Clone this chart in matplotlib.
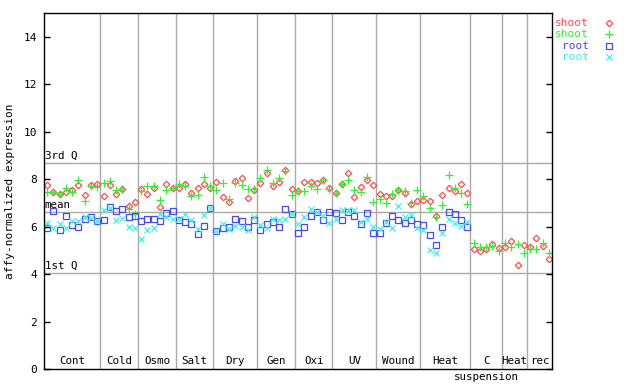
import numpy as np
import matplotlib
matplotlib.use('Agg')
import matplotlib.pyplot as plt

plt.rcParams['font.family'] = ['DejaVu Sans Mono']

# sample groups along the x axis
groups = ['Cont', 'Cold', 'Osmo', 'Salt', 'Dry', 'Gen', 'Oxi', 'UV', 'Wound', 'Heat', 'C', 'Heat', 'rec']
group_sizes = [9, 6, 6, 6, 7, 6, 6, 7, 7, 8, 5, 4, 4]

nan = np.nan
shoot_1 = [7.76, 7.45, 7.36, 7.47, 7.53, 7.76, 7.33, 7.76, 7.79, 7.28, 7.76, 7.36, 7.59, 6.88, 7.05, 7.59,
           7.36, 7.62, 6.82, 7.81, 7.62, 7.62, 7.81, 7.42, 7.62, 7.81, 7.62, 7.90, 7.25, 7.02, 7.93, 8.04, 7.22,
           7.56, 7.84, 8.27, 7.70, 7.87, 8.38, 7.59, 7.50, 7.87, 7.87, 7.84, 7.95, 7.64, 7.42, 7.79, 8.27,
           7.25, 7.67, 7.95, 7.76, 7.39, 7.28, 7.28, 7.53, 7.42, 6.96, 7.08, 7.11, 7.08, 6.46, 7.33, 7.62,
           7.50, 7.79, 7.42, 5.04, 4.96, 5.07, 5.27, 5.10, 5.16, 5.38, 4.39, 5.24, 5.16, 5.52, 5.19, 4.62]
shoot_2 = [7.45, 7.45, 7.36, 7.62, 7.47, 7.95, 7.08, 7.73, 7.67, 7.84, 7.93, 7.56, 7.59, 6.74, 6.54, 7.50,
           7.70, 7.70, 7.11, 7.56, 7.62, 7.81, 7.70, 7.28, 7.33, 8.10, 7.73, 7.53, 7.84, 7.16, 7.84, 7.76, 7.59,
           7.59, 8.04, 8.38, 7.84, 8.04, 8.35, 7.33, 7.50, 7.50, 7.73, 7.59, 7.95, 7.59, 7.42, 7.79, 7.95,
           7.53, 7.45, 8.07, 7.05, 7.16, 6.99, 7.39, 7.56, 7.50, 6.99, 7.53, 7.28, 6.77, 6.40, 6.91, 8.18,
           7.62, 7.42, 6.94, 5.33, 5.16, 5.16, 5.19, 4.96, 5.30, 5.16, 5.27, 4.87, 5.04, 5.04, 5.33, 4.87]
root_1 = [5.92, 6.65, 5.84, 6.43, 6.06, 6.00, 6.32, 6.40, 6.23, 6.26, 6.82, 6.65, 6.74, 6.40, 6.43, 6.23,
          6.32, 6.32, 6.23, 6.57, 6.65, 6.26, 6.20, 6.09, 5.67, 6.03, 6.77, 5.81, 5.95, 6.00, 6.32, 6.23, 6.00,
          6.26, 5.84, 6.09, 6.20, 6.00, 6.74, 6.54, 5.75, 6.00, 6.43, 6.60, 6.26, 6.60, 6.57, 6.26, 6.60,
          6.46, 6.09, 6.57, 5.75, 5.75, 6.15, 6.43, 6.26, 6.17, 6.26, 6.12, 6.06, 5.64, 5.21, 5.98, 6.63,
          6.51, 6.29, 6.00] + [nan] * 13
root_2 = [6.17, 5.95, 6.12, 5.95, 6.23, 6.23, 6.40, 6.37, 6.23, 6.71, 6.77, 6.26, 6.37, 6.00, 5.92, 5.47,
          5.84, 5.92, 6.54, 6.40, 6.32, 6.34, 6.51, 6.29, 5.89, 6.48, 6.77, 5.81, 6.09, 5.89, 6.03, 5.98, 5.86,
          6.40, 6.06, 5.95, 6.32, 6.26, 6.34, 6.54, 6.09, 6.40, 6.74, 6.63, 6.43, 6.17, 6.34, 6.68, 6.71,
          6.71, 6.20, 6.34, 5.98, 5.89, 6.20, 5.95, 6.85, 6.40, 6.48, 5.95, 5.84, 5.02, 4.90, 5.72, 6.32,
          6.15, 6.03, 6.20] + [nan] * 13

# reference lines
ref_names = ['3rd Q', 'mean', '1st Q']
ref_values = [8.69, 6.62, 4.05]

series = [
    ('shoot', shoot_1, '#ff4c4c', 'D'),
    ('shoot', shoot_2, '#33ee33', '+'),
    ('root', root_1, '#4848ee', 's'),
    ('root', root_2, '#44eeee', 'x'),
]
sizes = {'D': 3.3, '+': 5.5, 's': 4.0, 'x': 4.5}

fig = plt.figure(figsize=(6.4, 3.84), dpi=100)
ax = fig.add_axes([44 / 640, 1 - 369 / 384, 508 / 640, 356 / 384])

n = sum(group_sizes)
x = np.arange(n) + 0.5

for val, name in zip(ref_values, ref_names):
    ax.axhline(val, color='#aaaaaa', lw=1, zorder=1)
    ax.text(0.1, val + 0.08, name, fontsize=7.8, va='bottom', ha='left', zorder=3)

edges = np.cumsum([0] + group_sizes)
for e in edges[1:-1]:
    ax.axvline(e, color='#aaaaaa', lw=1, zorder=1)
for g, a, b in zip(groups, edges[:-1], edges[1:]):
    ax.text((a + b) / 2, 0.12, g, fontsize=7.8, ha='center', va='bottom', zorder=3)
c_idx = groups.index('C')
ax.text((edges[c_idx] + edges[c_idx + 1]) / 2, -0.12, 'suspension', fontsize=7.8,
        ha='center', va='top', clip_on=False)

for label, vals, col, mk in series:
    if mk in ('D', 's'):
        ax.plot(x, vals, ls='none', marker=mk, ms=sizes[mk],
                mfc='none', mec=col, mew=0.9, zorder=2)
    else:
        ax.plot(x, vals, ls='none', marker=mk, ms=sizes[mk], color=col, mew=0.9, zorder=2)

# legend drawn to the right of the axes
for k, (label, vals, col, mk) in enumerate(series):
    yy = 1 - (23 + 11.3 * k) / 384
    fig.text(589 / 640, yy, label, color=col, fontsize=8, ha='right', va='center')
    kw = dict(mfc='none', mec=col, mew=0.9) if mk in ('D', 's') else dict(color=col, mew=0.9)
    fig.lines.append(plt.Line2D([609 / 640], [yy], marker=mk, ms=sizes[mk],
                                ls='none', transform=fig.transFigure, **kw))

ax.set_xlim(0, n)
ax.set_ylim(0, 15)
ax.set_yticks(range(0, 15, 2))
ax.set_xticks([])
ax.tick_params(axis='y', direction='in', right=True, length=4, labelsize=8, width=1, pad=5)
for s in ax.spines.values():
    s.set_linewidth(1)
ax.set_ylabel('affy-normalized expression', fontsize=8, labelpad=6)

fig.savefig('out.png', dpi=100)
